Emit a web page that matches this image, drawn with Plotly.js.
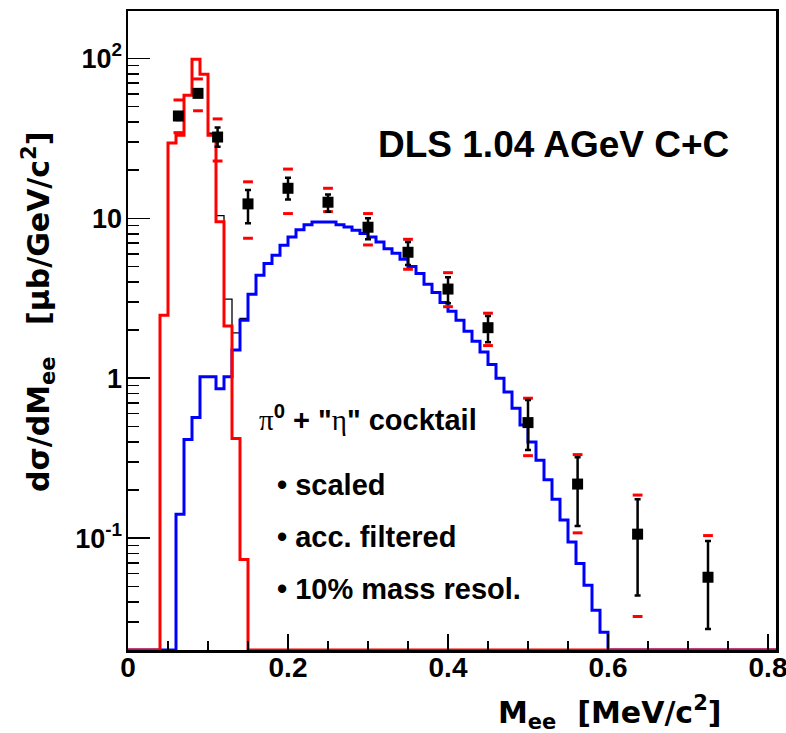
<!DOCTYPE html>
<html>
<head>
<meta charset="utf-8">
<script src="https://cdn.plot.ly/plotly-3.0.1.min.js"></script>
<style>html,body{margin:0;padding:0;background:#fff;}</style>
</head>
<body>
<div id="chart" style="width:786px;height:733px;"></div>
<script>
// Dielectron invariant-mass spectrum for C+C at 1.04 AGeV (DLS)
// compared with the pi0 + "eta" cocktail (scaled, acceptance filtered, 10% resolution).

const BIN_WIDTH = 0.01;      // histogram bin width [GeV/c^2]
const X_MAX = 0.81;          // histogram upper edge
const Y_MIN = 0.02;          // lower edge of the log axis (empty bins sit here)
const Y_MAX = 197.6;

// pi0 Dalitz component (red), bins starting at 0.04
const PI0_START = 0.04;
const PI0_VALUES = [2.48, 29.5, 33.0, 58.7, 98.6, 79.4, 33.0, 9.5, 2.12, 0.42, 0.0736];

// "eta" component (blue), bins starting at 0.06
const ETA_START = 0.06;
const ETA_VALUES = [0.141, 0.414, 0.568, 1.02, 1.02, 0.86, 1.02, 1.50, 2.30, 3.35,
                    4.40, 5.21, 5.87, 6.78, 7.64, 8.49, 9.12, 9.48, 9.48, 9.48,
                    9.12, 8.83, 8.41, 8.02, 7.64, 7.11, 6.46, 6.04, 5.54, 5.00,
                    4.51, 3.87, 3.43, 2.98, 2.62, 2.30, 1.97, 1.70, 1.46, 1.22,
                    1.00, 0.82, 0.65, 0.51, 0.40, 0.307, 0.232, 0.175, 0.130, 0.0948,
                    0.0695, 0.0508, 0.0355, 0.0258];

// cocktail sum (thin black) where it separates from the components
const SUM_START = 0.10;
const SUM_VALUES = [34.0, 10.4, 3.12, 1.92, 2.37];

// DLS data points
const DATA_M   = [0.063, 0.0875, 0.112, 0.150, 0.200, 0.250, 0.300, 0.350, 0.400, 0.450, 0.500, 0.562, 0.637, 0.725];
const DATA_Y   = [43.6, 60.4, 32.2, 12.3, 15.4, 12.6, 8.79, 6.13, 3.61, 2.07, 0.528, 0.218, 0.106, 0.057];
const STAT_HI  = [46.0, 63.5, 37.0, 15.0, 17.9, 14.1, 10.0, 7.11, 4.28, 2.45, 0.732, 0.321, 0.175, 0.0962];
const STAT_LO  = [41.2, 57.4, 28.0, 9.3, 13.1, 11.0, 7.39, 5.11, 2.94, 1.68, 0.356, 0.119, 0.0438, 0.0271];
const SYS_HI   = [54.9, 74.3, 41.8, 16.9, 20.3, 15.4, 10.7, 7.39, 4.57, 2.55, 0.75, 0.333, 0.186, 0.1038];
const SYS_LO   = [34.3, 47.0, 22.8, 7.5, 10.7, 11.0, 6.81, 4.80, 2.80, 1.60, 0.328, 0.108, 0.0324, 0.0198];

// axis ticks
const X_TICKS = [0, 0.2, 0.4, 0.6, 0.8];
const X_TICK_TEXT = ['0', '0.2', '0.4', '0.6', '0.8'];
const X_MINOR = [0.05, 0.1, 0.15, 0.25, 0.3, 0.35, 0.45, 0.5, 0.55, 0.65, 0.7, 0.75];
const Y_TICKS = [0.1, 1, 10, 100];
const Y_TICK_TEXT = ['10<sup>-1</sup>', '1', '10', '10<sup>2</sup>'];
const Y_MINOR = [0.03, 0.04, 0.05, 0.06, 0.07, 0.08, 0.09,
                 0.2, 0.3, 0.4, 0.5, 0.6, 0.7, 0.8, 0.9,
                 2, 3, 4, 5, 6, 7, 8, 9,
                 20, 30, 40, 50, 60, 70, 80, 90];

// Outline of a histogram as an 'hv' step line; empty bins are drawn on the axis floor.
function histOutline(start, values, padToAxis) {
  const x = [], y = [];
  if (padToAxis) { x.push(0); y.push(Y_MIN); }
  values.forEach((v, i) => { x.push(start + i * BIN_WIDTH); y.push(v > 0 ? v : Y_MIN); });
  const end = start + values.length * BIN_WIDTH;
  if (padToAxis) {
    x.push(end); y.push(Y_MIN);
    x.push(X_MAX); y.push(Y_MIN);
  } else {
    x.push(end); y.push(values[values.length - 1]);
  }
  return { x, y };
}

const sumH = histOutline(SUM_START, SUM_VALUES, false);
const etaH = histOutline(ETA_START, ETA_VALUES, true);
const pi0H = histOutline(PI0_START, PI0_VALUES, true);

const traces = [
  { x: sumH.x, y: sumH.y, mode: 'lines', line: { shape: 'hv', color: '#000000', width: 1.3 }, hoverinfo: 'skip' },
  { x: etaH.x, y: etaH.y, mode: 'lines', line: { shape: 'hv', color: '#0000ff', width: 3 }, hoverinfo: 'skip' },
  { x: pi0H.x, y: pi0H.y, mode: 'lines', line: { shape: 'hv', color: '#ff0000', width: 3 }, hoverinfo: 'skip' },
  { x: DATA_M.concat(DATA_M), y: SYS_HI.concat(SYS_LO), mode: 'markers', cliponaxis: false,
    marker: { symbol: 'line-ew', size: 7, color: '#ff0000', line: { color: '#ff0000', width: 3 } } },
  { x: DATA_M, y: DATA_Y, mode: 'markers', cliponaxis: false,
    marker: { symbol: 'square', size: 11, color: '#000000' },
    error_y: { type: 'data', symmetric: false,
               array: STAT_HI.map((v, i) => v - DATA_Y[i]),
               arrayminus: DATA_Y.map((v, i) => v - STAT_LO[i]),
               color: '#000000', thickness: 2.5, width: 3 } }
];

const FONT = 'Liberation Sans, Arial, Helvetica, sans-serif';
const TITLE_FONT = 'DejaVu Sans, Verdana, sans-serif';
const L = 128, R = 10, T = 11, B = 83, W = 786, H = 733;
const px = x => (x - L) / (W - L - R);
const py = y => (H - B - y) / (H - T - B);

const layout = {
  width: W, height: H,
  margin: { l: L, r: R, t: T, b: B },
  paper_bgcolor: '#ffffff', plot_bgcolor: '#ffffff',
  showlegend: false,
  xaxis: {
    range: [0, X_MAX], showgrid: false, zeroline: false,
    showline: true, linecolor: '#000000', linewidth: 2.5, mirror: true,
    ticks: 'inside', ticklen: 16, tickwidth: 1.5, tickcolor: '#000000',
    tickmode: 'array', tickvals: X_TICKS, ticktext: X_TICK_TEXT,
    ticklabeloverflow: 'allow', ticklabelstandoff: -9,
    tickfont: { family: FONT, size: 28, weight: 700, color: '#000000' },
    minor: { tickmode: 'array', tickvals: X_MINOR, ticks: 'inside', ticklen: 9, tickwidth: 1.5, tickcolor: '#000000' }
  },
  yaxis: {
    type: 'log', range: [Math.log10(Y_MIN), Math.log10(Y_MAX)], showgrid: false, zeroline: false,
    showline: true, linecolor: '#000000', linewidth: 2.5, mirror: true,
    ticks: 'inside', ticklen: 22, tickwidth: 1.5, tickcolor: '#000000',
    tickmode: 'array', tickvals: Y_TICKS, ticktext: Y_TICK_TEXT,
    ticklabeloverflow: 'allow', ticklabelstandoff: -2,
    tickfont: { family: FONT, size: 27, weight: 700, color: '#000000' },
    minor: { tickmode: 'array', tickvals: Y_MINOR, ticks: 'inside', ticklen: 11, tickwidth: 1.5, tickcolor: '#000000' }
  },
  annotations: [
    { text: 'DLS 1.04 AGeV C+C', xref: 'paper', yref: 'paper', x: px(376), y: py(144),
      xanchor: 'left', yanchor: 'middle', showarrow: false,
      font: { family: FONT, size: 37, weight: 700, color: '#000000' } },
    { text: '<span style="font-family:\'Liberation Serif\';font-weight:normal">π</span><sup>0</sup> + "<span style="font-family:\'Liberation Serif\';font-weight:normal">η</span>" cocktail',
      xref: 'paper', yref: 'paper', x: px(257), y: py(418),
      xanchor: 'left', yanchor: 'middle', showarrow: false,
      font: { family: FONT, size: 29, weight: 700, color: '#000000' } },
    { text: '• scaled', xref: 'paper', yref: 'paper', x: px(275), y: py(485),
      xanchor: 'left', yanchor: 'middle', showarrow: false,
      font: { family: FONT, size: 29, weight: 700, color: '#000000' } },
    { text: '• acc. filtered', xref: 'paper', yref: 'paper', x: px(275), y: py(537),
      xanchor: 'left', yanchor: 'middle', showarrow: false,
      font: { family: FONT, size: 29, weight: 700, color: '#000000' } },
    { text: '• 10% mass resol.', xref: 'paper', yref: 'paper', x: px(275), y: py(589),
      xanchor: 'left', yanchor: 'middle', showarrow: false,
      font: { family: FONT, size: 29, weight: 700, color: '#000000' } },
    { text: 'M<sub>ee</sub>\u00a0\u00a0[MeV/c<sup>2</sup>]', xref: 'paper', yref: 'paper', x: px(723), y: py(712),
      xanchor: 'right', yanchor: 'middle', showarrow: false,
      font: { family: TITLE_FONT, size: 30, weight: 700, color: '#000000' } },
    { text: 'dσ/dM<sub>ee</sub>\u00a0\u00a0\u00a0[μb/GeV/c<sup>2</sup>]', xref: 'paper', yref: 'paper', x: px(38), y: py(312),
      xanchor: 'center', yanchor: 'middle', textangle: -90, showarrow: false,
      font: { family: TITLE_FONT, size: 30, weight: 700, color: '#000000' } }
  ]
};

Plotly.newPlot('chart', traces, layout, { staticPlot: true, displayModeBar: false });
</script>
</body>
</html>
